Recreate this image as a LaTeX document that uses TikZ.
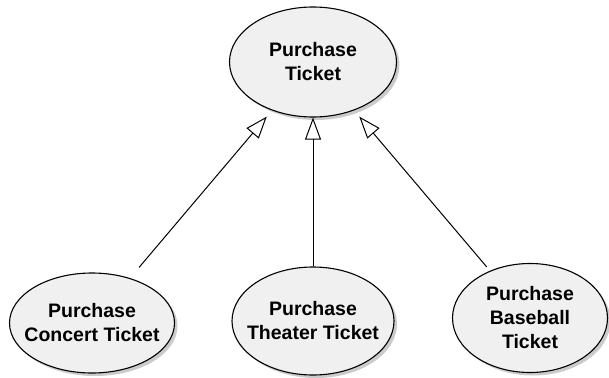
\documentclass[tikz,border=0pt]{standalone}
\usepackage{fontspec}
\setmainfont{Liberation Sans}
\usetikzlibrary{shapes.geometric,shadows,arrows.meta}
\definecolor{ucfill}{HTML}{F0F0F0}
\definecolor{ucshadow}{HTML}{A8A8A8}

\tikzset{
  usecase/.style={ellipse,draw,line width=1.1pt,fill=ucfill,inner xsep=-30pt,inner ysep=0pt,align=center,
    font=\fontsize{19.5}{24}\selectfont\bfseries,
    drop shadow={shadow xshift=3pt,shadow yshift=-3pt,fill=ucshadow,opacity=0.6}},
  generalize/.style={line width=1pt,-{Triangle[open,length=22pt,width=16pt,line width=1pt]}}
}

\begin{document}
\begin{tikzpicture}[x=1pt,y=-1pt]
    \useasboundingbox(0,0)rectangle(609,377);
    \node[usecase,minimum width=167pt,minimum height=110pt](ticket)at(313,62){Purchase\\Ticket};
    \node[usecase,minimum width=165pt,minimum height=100pt](concert)at(92,323){Purchase\\Concert Ticket};
    \node[usecase,minimum width=162pt,minimum height=108pt](theater)at(313,321){Purchase\\Theater Ticket};
    \node[usecase,minimum width=155pt,minimum height=109pt](baseball)at(530,318){Purchase\\Baseball\\Ticket};
    \draw[generalize,shorten <=14pt,shorten >=8pt](concert)--(ticket);
    \draw[generalize](theater)--(ticket);
    \draw[generalize,shorten <=5pt,shorten >=8pt](baseball)--(ticket);
\end{tikzpicture}
\end{document}
